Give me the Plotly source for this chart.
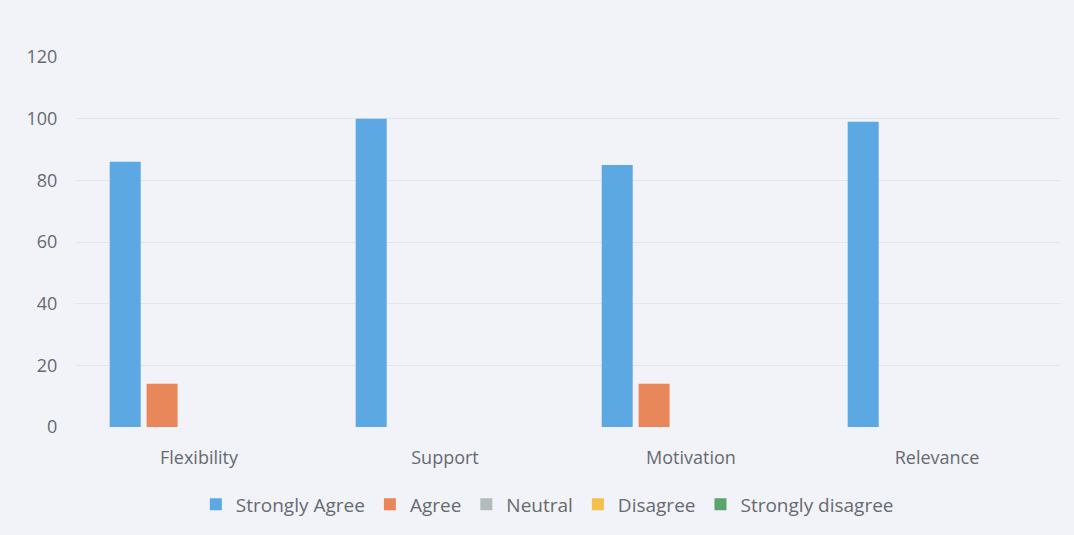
import plotly.graph_objects as go

categories = ["Flexibility", "Support", "Motivation", "Relevance"]
series_names = ["Strongly Agree", "Agree", "Neutral", "Disagree", "Strongly disagree"]
strongly_agree = [86, 100, 85, 99]
agree = [14, 0, 14, 0]
neutral = [0, 0, 0, 0]
disagree = [0, 0, 0, 0]
strongly_disagree = [0, 0, 0, 0]
y_ticks = [0, 20, 40, 60, 80, 100, 120]

values = [strongly_agree, agree, neutral, disagree, strongly_disagree]
colors = ["#5ba8e2", "#e8875a", "#b3bbbb", "#f4c04e", "#5aa56a"]

fig = go.Figure()
for name, vals, col in zip(series_names, values, colors):
    fig.add_trace(go.Bar(name=name, x=categories, y=vals, marker_color=col,
                         marker_line_width=0))

fig.update_layout(
    width=1074, height=535,
    barmode="group", bargap=0.25, bargroupgap=0.16,
    paper_bgcolor="#f2f3f8", plot_bgcolor="#f2f3f8",
    margin=dict(l=76, r=14, t=57, b=108),
    font=dict(family="Open Sans", size=18, color="#666a70"),
    xaxis=dict(showgrid=False, showline=False, ticks="outside", ticklen=14,
               tickcolor="rgba(0,0,0,0)", tickfont=dict(size=18)),
    yaxis=dict(range=[0, 120], tickvals=y_ticks, showgrid=True,
               gridcolor="#e3e5ec", gridwidth=1, zeroline=False,
               ticks="outside", ticklen=14, tickcolor="rgba(0,0,0,0)",
               tickfont=dict(size=18)),
    legend=dict(orientation="h", x=0.479, xanchor="center", y=-0.158,
                yanchor="top", font=dict(size=19, color="#666a70"),
                itemwidth=30, traceorder="normal"),
)

fig.write_html(
    "out.html",
    config={"displayModeBar": False},
    post_script="document.body.style.margin='0';document.body.style.background='#f2f3f8';",
)
